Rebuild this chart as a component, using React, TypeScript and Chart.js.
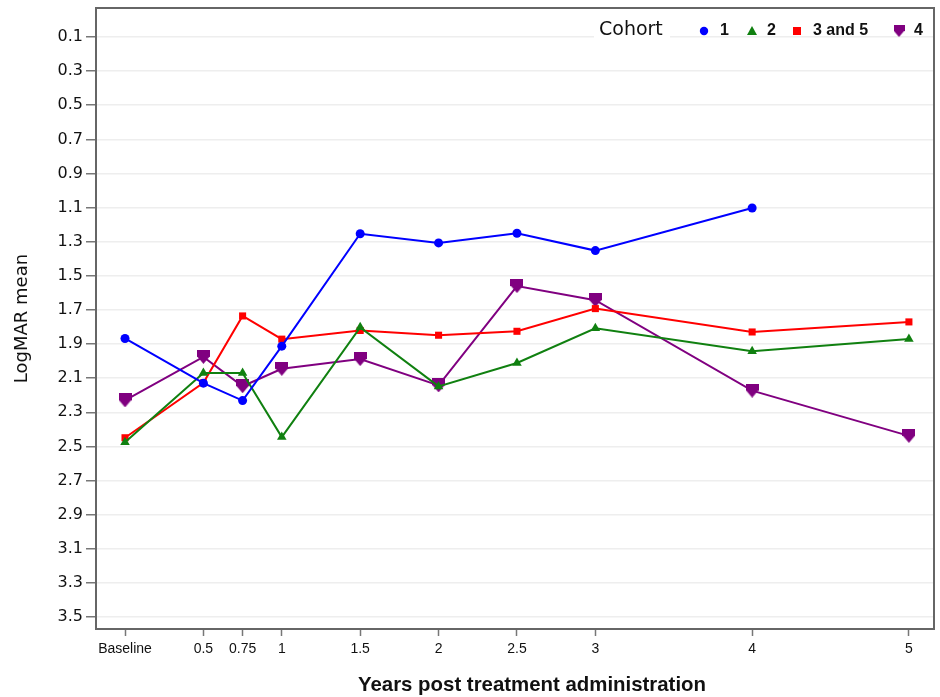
import React, { useEffect, useRef } from 'react';
import { Chart, registerables } from 'chart.js';

Chart.register(...registerables);

// ---- data ----
const xValues = [0, 0.5, 0.75, 1, 1.5, 2, 2.5, 3, 4, 5];
const xTickLabels = ['Baseline', '0.5', '0.75', '1', '1.5', '2', '2.5', '3', '4', '5'];
const yTickValues = [0.1, 0.3, 0.5, 0.7, 0.9, 1.1, 1.3, 1.5, 1.7, 1.9, 2.1, 2.3, 2.5, 2.7, 2.9, 3.1, 3.3, 3.5];

const cohort1 = [1.867, 2.129, 2.231, 1.912, 1.253, 1.307, 1.25, 1.352, 1.102, null];
const cohort2 = [2.476, 2.07, 2.07, 2.445, 1.802, 2.148, 2.011, 1.807, 1.942, 1.87];
const cohort35 = [2.449, 2.127, 1.735, 1.871, 1.82, 1.848, 1.825, 1.692, 1.829, 1.77];
const cohort4 = [2.23, 1.975, 2.147, 2.045, 1.988, 2.142, 1.56, 1.643, 2.173, 2.438];

const seriesNames = ['1', '2', '3 and 5', '4'];
const seriesColors = ['#0000ff', '#108010', '#ff0000', '#800080'];
const xTitle = 'Years post treatment administration';
const legendTitle = 'Cohort';

function makeShield(color: string, w: number, h: number) {
  const c = document.createElement('canvas');
  c.width = w;
  c.height = h;
  const g = c.getContext('2d')!;
  g.fillStyle = color;
  g.beginPath();
  g.moveTo(0, 0);
  g.lineTo(w, 0);
  g.lineTo(w, h * 0.45);
  g.lineTo(w / 2, h);
  g.lineTo(0, h * 0.45);
  g.closePath();
  g.fill();
  return c;
}

function toPoints(vals: (number | null)[]) {
  const pts: { x: number; y: number }[] = [];
  vals.forEach((v, i) => {
    if (v !== null) pts.push({ x: xValues[i], y: v });
  });
  return pts;
}

const frameAndLegend = {
  id: 'frameAndLegend',
  afterDraw(chart: any) {
    const { ctx, chartArea } = chart;
    ctx.save();
    ctx.strokeStyle = '#666';
    ctx.lineWidth = 2;
    ctx.strokeRect(chartArea.left, chartArea.top, chartArea.right - chartArea.left, chartArea.bottom - chartArea.top);

    // x axis title (condensed bold)
    ctx.fillStyle = '#111';
    ctx.textBaseline = 'middle';
    ctx.textAlign = 'center';
    ctx.font = 'bold 21px "Liberation Sans", Arial, sans-serif';
    const tw = ctx.measureText(xTitle).width;
    const sx = 348 / tw;
    ctx.save();
    ctx.translate(532, 685);
    ctx.scale(sx, 1);
    ctx.fillText(xTitle, 0, 0);
    ctx.restore();

    // legend
    const ly = 30;
    ctx.fillStyle = '#fff';
    ctx.fillRect(594, 18, 76, 24);
    ctx.fillStyle = '#111';
    ctx.textAlign = 'left';
    ctx.font = '19px "DejaVu Sans", sans-serif';
    ctx.fillText(legendTitle, 599, ly);
    ctx.font = 'bold 16px "Liberation Sans", Arial, sans-serif';
    const markerX = [704, 752, 797, 899];
    const textX = [720, 767, 813, 914];
    markerX.forEach((mx, i) => {
      ctx.fillStyle = seriesColors[i];
      if (i === 0) {
        ctx.beginPath();
        ctx.arc(mx, ly + 1, 4.2, 0, Math.PI * 2);
        ctx.fill();
      } else if (i === 1) {
        ctx.beginPath();
        ctx.moveTo(mx, ly - 4);
        ctx.lineTo(mx + 5, ly + 5);
        ctx.lineTo(mx - 5, ly + 5);
        ctx.closePath();
        ctx.fill();
      } else if (i === 2) {
        ctx.fillRect(mx - 4, ly - 3, 8, 8);
      } else {
        ctx.drawImage(makeShield(seriesColors[3], 11, 12), mx - 5.5, ly - 5);
      }
      ctx.fillStyle = '#111';
      ctx.fillText(seriesNames[i], textX[i], ly + 1);
    });
    ctx.restore();
  },
};

export default function App() {
  const ref = useRef<HTMLCanvasElement | null>(null);

  useEffect(() => {
    document.body.style.margin = '0';
    const shield = makeShield(seriesColors[3], 13, 14);
    const data = [cohort1, cohort2, cohort35, cohort4];
    const styles: any[] = ['circle', 'triangle', 'rect', shield];
    const radii = [4.5, 5.5, 5, 6];
    const chart = new Chart(ref.current!, {
      type: 'line',
      data: {
        datasets: data.map((d, i) => ({
          label: seriesNames[i],
          data: toPoints(d),
          borderColor: seriesColors[i],
          backgroundColor: seriesColors[i],
          borderWidth: 2,
          pointStyle: styles[i],
          pointRadius: radii[i],
          pointBorderWidth: 0,
          tension: 0,
        })),
      },
      options: {
        animation: false,
        responsive: false,
        maintainAspectRatio: false,
        layout: { padding: { top: 8, right: 6, left: 0, bottom: 0 } },
        plugins: { legend: { display: false }, tooltip: { enabled: false } },
        scales: {
          x: {
            type: 'linear',
            min: -0.185,
            max: 5.16,
            afterBuildTicks: (s: any) => {
              s.ticks = xValues.map((v) => ({ value: v }));
            },
            afterFit: (s: any) => {
              s.height = 68;
              s.paddingLeft = 0;
              s.paddingRight = 0;
            },
            ticks: {
              autoSkip: false,
              maxRotation: 0,
              padding: 5,
              color: '#111',
              font: { family: '"Liberation Sans Narrow", "Liberation Sans", Arial, sans-serif', size: 14 },
              callback: (v: any) => {
                const idx = xValues.indexOf(Number(v));
                return idx >= 0 ? xTickLabels[idx] : '';
              },
            },
            grid: { drawOnChartArea: false, tickLength: 7, tickColor: '#777', tickWidth: 1.5 },
            border: { color: '#666', width: 2 },
            title: { display: false },
          },
          y: {
            type: 'linear',
            reverse: true,
            min: -0.07,
            max: 3.57,
            afterBuildTicks: (s: any) => {
              s.ticks = yTickValues.map((v) => ({ value: v }));
            },
            afterFit: (s: any) => {
              s.width = 96;
              s.paddingTop = 0;
              s.paddingBottom = 0;
            },
            ticks: {
              autoSkip: false,
              padding: 3,
              color: '#111',
              font: { family: '"DejaVu Sans", sans-serif', size: 16 },
              callback: (v: any) => Number(v).toFixed(1),
            },
            grid: { color: '#eeeeee', lineWidth: 1.5, tickLength: 10, tickColor: '#777', tickWidth: 1.5 },
            border: { color: '#666', width: 2 },
            title: {
              display: true,
              text: 'LogMAR mean',
              color: '#111',
              font: { family: '"DejaVu Sans", sans-serif', size: 18 },
              padding: { top: 12, bottom: 0 },
            },
          },
        },
      },
      plugins: [frameAndLegend],
    } as any);
    return () => chart.destroy();
  }, []);

  return (
    <div style={{ width: 940, height: 697 }}>
      <canvas ref={ref} width={940} height={697} style={{ display: 'block' }} />
    </div>
  );
}
